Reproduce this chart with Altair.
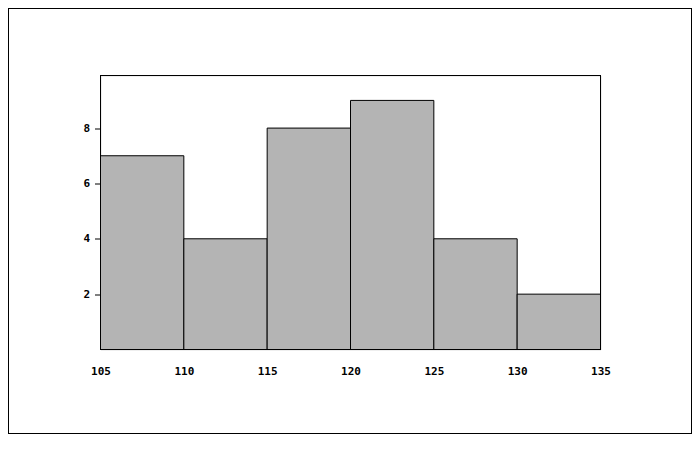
import altair as alt
import pandas as pd

bin_start = [105, 110, 115, 120, 125, 130]
bin_end = [110, 115, 120, 125, 130, 135]
counts = [7, 4, 8, 9, 4, 2]
x_ticks = [105, 110, 115, 120, 125, 130, 135]
y_ticks = [2, 4, 6, 8]
y_max = 9.9

df = pd.DataFrame({"start": bin_start, "end": bin_end, "count": counts})

font = "DejaVu Sans Mono"

bars = alt.Chart(df).mark_rect(
    fill="#b4b4b4", stroke="black", strokeWidth=1
).encode(
    x=alt.X("start:Q", scale=alt.Scale(domain=[105, 135], nice=False, zero=False),
            axis=alt.Axis(values=x_ticks, title=None, grid=False, ticks=False, domain=False,
                          labelPadding=16, labelFont=font, labelFontWeight="bold",
                          labelFontSize=11, labelColor="black", labelFlush=False)),
    x2="end:Q",
    y=alt.Y("count:Q", scale=alt.Scale(domain=[0, y_max], nice=False),
            axis=alt.Axis(values=y_ticks, title=None, grid=False, domain=False,
                          tickSize=6, tickColor="black", labelPadding=5, labelFont=font,
                          labelFontWeight="bold", labelFontSize=11, labelColor="black")),
    y2=alt.datum(0),
)

plot_box = alt.Chart(df).mark_rect(
    fill=None, stroke="black", strokeWidth=1, clip=False
).encode(
    x=alt.value(0), x2=alt.value(500), y=alt.value(0), y2=alt.value(274)
)

frame = alt.Chart(df).mark_rect(
    fill=None, stroke="black", strokeWidth=1, clip=False
).encode(
    x=alt.value(-92), x2=alt.value(591), y=alt.value(-67), y2=alt.value(358)
)

chart = alt.layer(bars, plot_box, frame).properties(
    width=500, height=274,
    padding={"left": 92.5, "top": 67.5, "right": 91.5, "bottom": 84.5},
    autosize=alt.AutoSizeParams(type="none"),
).configure_view(stroke=None).configure(background="white")

chart.save("out.html", embed_options={"renderer": "svg", "actions": False})
